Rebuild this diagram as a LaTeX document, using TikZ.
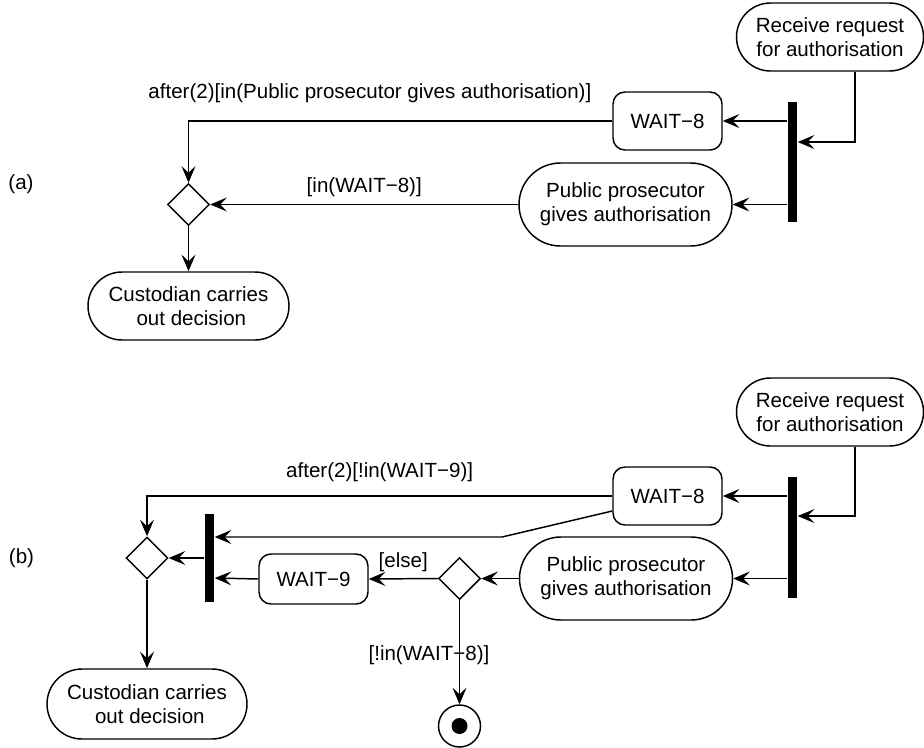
\documentclass[tikz,border=0pt]{standalone}
\usepackage{fontspec}
\setmainfont{Liberation Sans}
\usetikzlibrary{arrows.meta,shapes.misc,shapes.geometric}

\begin{document}
\begin{tikzpicture}[x=0.75pt,y=-0.75pt,
  font=\fontsize{15.4}{18}\selectfont,
  line width=1.1pt,
  arr/.style={-{Stealth[length=12.5pt,width=10.5pt,inset=5pt]}},
  activity/.style={draw, rounded rectangle, align=center, inner sep=0pt,
    minimum width=#1},
  waitbox/.style={draw, rectangle, rounded corners=9pt, align=center,
    inner sep=0pt, minimum width=81.75pt},
  bar/.style={fill=black, draw=none, rectangle, inner sep=0pt, minimum width=6.75pt},
  decision/.style={draw, diamond, inner sep=0pt, minimum width=31.5pt, minimum height=31.5pt},
  lbl/.style={inner sep=0pt}
]
\useasboundingbox (0,0) rectangle (924,747);

% ---------------- panel (a) ----------------
\node[lbl] (tagA) at (21,184) {(a)};
\node[activity=140.25pt, minimum height=51pt] (recA) at (830,37) {Receive request\\for authorisation};
\node[bar, minimum height=90pt] (barA) at (792.5,162) {};
\node[waitbox, minimum height=43.5pt] (waitA) at (667.5,121) {WAIT−8};
\node[activity=159.75pt, minimum height=62.25pt] (pubA) at (625.5,204.5) {Public prosecutor\\gives authorisation};
\node[decision] (decA) at (188.5,204.5) {};
\node[activity=150.75pt, minimum height=51pt] (cusA) at (188.5,306) {Custodian carries\\\ out decision};

\draw[arr] ([xshift=18.75pt]recA.south) |- ([yshift=15pt]barA.east);
\draw[arr] (barA.west |- waitA.east) -- (waitA.east);
\draw[arr] (barA.west |- pubA.east) -- (pubA.east);
\draw[arr] (waitA.west) -| (decA.north)
  node[lbl, pos=0.286, above=13.5pt] {after(2)[in(Public prosecutor gives authorisation)]};
\draw[arr] (pubA.west) -- (decA.east)
  node[lbl, midway, above=5.5pt] {[in(WAIT−8)]};
\draw[arr] (decA.south) -- (cusA.north);

% ---------------- panel (b) ----------------
\node[lbl] (tagB) at (21.5,558) {(b)};
\node[activity=140.25pt, minimum height=51pt] (recB) at (830,412) {Receive request\\for authorisation};
\node[bar, minimum height=90.75pt] (barB) at (792.5,537.5) {};
\node[waitbox, minimum height=43.5pt] (waitB) at (667.5,496) {WAIT−8};
\node[activity=159.75pt, minimum height=62.25pt] (pubB) at (626,578.5) {Public prosecutor\\gives authorisation};
\node[decision] (decC) at (459.5,578.5) {};
\node[waitbox, minimum height=37.5pt] (waitC) at (313.5,579) {WAIT−9};
\node[bar, minimum height=66pt] (joinB) at (209.5,558) {};
\node[decision] (decB) at (147,558) {};
\node[activity=150pt, minimum height=52.5pt] (cusB) at (147,704) {Custodian carries\\\ out decision};
\node[draw, circle, minimum size=31.5pt, inner sep=0pt] (finB) at (459.5,726) {};
\node[fill=black, circle, minimum size=12pt, inner sep=0pt] (finDot) at (finB.center) {};
\coordinate (kink) at (502,537);

\draw[arr] ([xshift=18.75pt]recB.south) |- ([yshift=16.1pt]barB.east);
\draw[arr] (barB.west |- waitB.east) -- (waitB.east);
\draw[arr] (barB.west |- pubB.east) -- (pubB.east);
\draw[arr] (waitB.west) -| (decB.north)
  node[lbl, pos=0.25, above=10pt] {after(2)[!in(WAIT−9)]};
\draw[arr] ([yshift=-11.25pt]waitB.west) -- (kink) -- ([yshift=15.75pt]joinB.east);
\draw[arr] (joinB.west |- decB.east) -- (decB.east);
\draw[arr] (waitC.west) -- ([yshift=-15pt]joinB.east);
\draw[arr] (pubB.west) -- (decC.east);
\draw[arr] (decC.west) -- (waitC.east)
  node[lbl, midway, above=5pt] {[else]};
\draw[arr] (decC.south) -- (finB.north)
  node[lbl, pos=0.53, xshift=-22.9pt] {[!in(WAIT−8)]};
\draw[arr] (decB.south) -- (cusB.north);
\end{tikzpicture}
\end{document}
